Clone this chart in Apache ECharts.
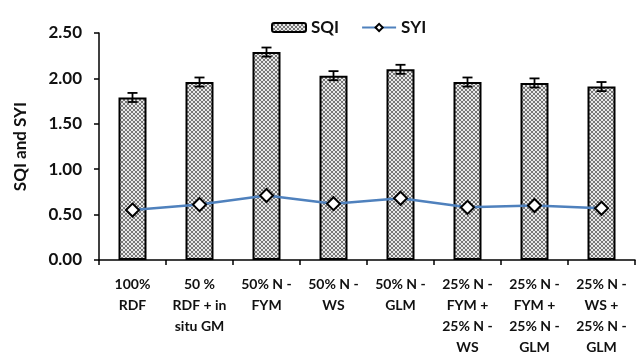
<!DOCTYPE html>
<html>
<head>
<meta charset="utf-8">
<script src="https://cdn.jsdelivr.net/npm/echarts@6/dist/echarts.min.js"></script>
<style>html,body{margin:0;padding:0;background:#fff;}#c{width:639px;height:358px;}</style>
</head>
<body>
<div id="c"></div>
<script>
var categories = ['100%\nRDF', '50 %\nRDF + in\nsitu GM', '50% N -\nFYM', '50% N -\nWS', '50% N -\nGLM', '25% N -\nFYM +\n25% N -\nWS', '25% N -\nFYM +\n25% N -\nGLM', '25% N -\nWS +\n25% N -\nGLM'];
var sqi = [1.79, 1.96, 2.29, 2.03, 2.10, 1.96, 1.95, 1.91];
var sqiErr = [0.05, 0.05, 0.05, 0.05, 0.05, 0.05, 0.05, 0.05];
var syi = [0.55, 0.61, 0.71, 0.62, 0.68, 0.58, 0.60, 0.57];
var yTicks = [0, 0.5, 1, 1.5, 2, 2.5];

function makePattern() {
  var c = document.createElement('canvas');
  c.width = 4; c.height = 4;
  var g = c.getContext('2d');
  g.fillStyle = '#e8e8e8';
  g.fillRect(0, 0, 4, 4);
  g.strokeStyle = '#6a6a6a';
  g.lineWidth = 0.9;
  g.beginPath();
  g.moveTo(0, 0); g.lineTo(4, 4);
  g.moveTo(4, 0); g.lineTo(0, 4);
  g.stroke();
  return c;
}
var pat = { image: makePattern(), repeat: 'repeat' };

var chart = echarts.init(document.getElementById('c'), null, { renderer: 'canvas' });
var font = 'Lato';
var txt = '#111';
chart.setOption({
  animation: false,
  textStyle: { fontFamily: font },
  legend: {
    left: 266, top: 14,
    itemWidth: 34, itemHeight: 9, itemGap: 22,
    textStyle: { fontFamily: font, fontWeight: 'bold', fontSize: 17, color: txt },
    data: [{ name: 'SQI' }, { name: 'SYI' }]
  },
  grid: { left: 99, right: 4, top: 33, bottom: 97, containLabel: false },
  xAxis: {
    type: 'category',
    data: categories,
    axisLine: { lineStyle: { color: '#000', width: 1.5 } },
    axisTick: { show: true, alignWithLabel: false, length: 5, lineStyle: { color: '#000', width: 1.5 } },
    axisLabel: { interval: 0, fontFamily: font, fontWeight: 'bold', fontSize: 14, color: txt, lineHeight: 21, margin: 14 }
  },
  yAxis: {
    type: 'value', min: 0, max: 2.5, interval: 0.5,
    name: 'SQI and SYI', nameLocation: 'middle', nameGap: 70,
    nameTextStyle: { fontFamily: font, fontWeight: 'bold', fontSize: 17, color: txt },
    splitLine: { show: false },
    axisLine: { show: true, lineStyle: { color: '#000', width: 1.5 } },
    axisTick: { show: true, length: 5, lineStyle: { color: '#000', width: 1.5 } },
    axisLabel: { fontFamily: font, fontWeight: 'bold', fontSize: 17, color: txt, margin: 17,
      formatter: function (v) { return v.toFixed(2); } }
  },
  series: [
    {
      name: 'SQI', type: 'bar', data: sqi, barWidth: 28, z: 2,
      itemStyle: { color: pat, borderColor: '#000', borderWidth: 2 }
    },
    {
      name: 'err', type: 'custom', z: 3,
      data: sqi.map(function (v, i) { return [i, v - sqiErr[i], v + sqiErr[i]]; }),
      renderItem: function (params, api) {
        var lo = api.coord([api.value(0), api.value(1)]);
        var hi = api.coord([api.value(0), api.value(2)]);
        var w = 5;
        var st = { stroke: '#000', lineWidth: 1.8 };
        return { type: 'group', children: [
          { type: 'line', shape: { x1: hi[0], y1: hi[1], x2: lo[0], y2: lo[1] }, style: st },
          { type: 'line', shape: { x1: hi[0] - w, y1: hi[1], x2: hi[0] + w, y2: hi[1] }, style: st },
          { type: 'line', shape: { x1: lo[0] - w, y1: lo[1], x2: lo[0] + w, y2: lo[1] }, style: st }
        ] };
      }
    },
    {
      name: 'SYI', type: 'line', data: syi, z: 4,
      symbol: 'diamond', symbolSize: 13,
      lineStyle: { color: '#4f81bd', width: 2.5 },
      itemStyle: { color: '#fff', borderColor: '#000', borderWidth: 2 }
    }
  ]
});
</script>
</body>
</html>
